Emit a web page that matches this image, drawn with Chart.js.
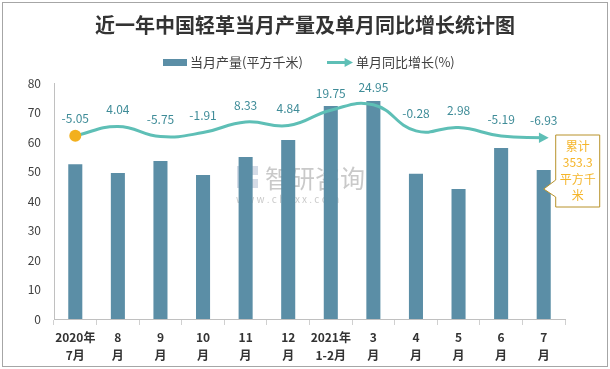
<!DOCTYPE html>
<html>
<head>
<meta charset="utf-8">
<script src="https://cdn.jsdelivr.net/npm/chart.js@4.4.0/dist/chart.umd.min.js"></script>
<style>
    html, body { margin: 0; padding: 0; background: #ffffff; }
    #wrap { width: 610px; height: 369px; }
</style>
</head>
<body>
<div id="wrap"><canvas id="chart" width="610" height="369"></canvas></div>
<script>
// Chart data
const categories = [
    ['2020年', '7月'], ['8', '月'], ['9', '月'], ['10', '月'], ['11', '月'], ['12', '月'],
    ['2021年', '1-2月'], ['3', '月'], ['4', '月'], ['5', '月'], ['6', '月'], ['7', '月']
];
const monthlyOutput = [52.5, 49.5, 53.6, 48.8, 54.9, 60.7, 72.2, 73.9, 49.2, 44.1, 58.0, 50.5];
const yoyGrowth = [-5.05, 4.04, -5.75, -1.91, 8.33, 4.84, 19.75, 24.95, -0.28, 2.98, -5.19, -6.93];
const yTicks = [0, 10, 20, 30, 40, 50, 60, 70, 80];
const cumulativeText = ['累计', '353.3', '平方千', '米'];

const titleText = '近一年中国轻革当月产量及单月同比增长统计图';
const barLabel = '当月产量(平方千米)';
const lineLabel = '单月同比增长(%)';

const barColor = '#5b8ea6';
const lineColor = '#5ebfb6';
const cjkFont = '"Noto Sans CJK SC", "Noto Sans", sans-serif';

// Draw an arrow head pointing right
function arrowHead(ctx, x, y, size, color) {
    ctx.fillStyle = color;
    ctx.beginPath();
    ctx.moveTo(x + size, y);
    ctx.lineTo(x - size * 0.4, y - size * 0.75);
    ctx.lineTo(x - size * 0.4, y + size * 0.75);
    ctx.closePath();
    ctx.fill();
}

// Title, legend, watermark and frame
const decorPlugin = {
    id: 'decor',
    beforeDraw(chart) {
        const ctx = chart.ctx;
        ctx.save();
        ctx.fillStyle = '#ffffff';
        ctx.fillRect(0, 0, chart.width, chart.height);

        // watermark
        ctx.fillStyle = 'rgba(160, 175, 200, 0.45)';
        ctx.fillRect(237, 166, 7, 22);
        ctx.fillRect(246, 166, 12, 9);
        ctx.fillRect(246, 179, 12, 9);
        ctx.fillStyle = 'rgba(120, 120, 120, 0.4)';
        ctx.font = '25px ' + cjkFont;
        ctx.textAlign = 'left';
        ctx.textBaseline = 'middle';
        ctx.fillText('智研咨询', 265, 178);
        ctx.font = '10px ' + cjkFont;
        ctx.fillText('w w w . c h y x x . c o m', 236, 199);
        ctx.restore();
    },
    afterDraw(chart) {
        const ctx = chart.ctx;
        ctx.save();
        // frame
        ctx.strokeStyle = '#a6a6a6';
        ctx.lineWidth = 1;
        ctx.strokeRect(2.5, 2.5, 605, 364);

        // title
        ctx.fillStyle = '#333333';
        ctx.font = 'bold 20px ' + cjkFont;
        ctx.textAlign = 'center';
        ctx.textBaseline = 'middle';
        ctx.fillText(titleText, 305, 25);

        // legend
        ctx.font = '13px ' + cjkFont;
        ctx.textAlign = 'left';
        ctx.fillStyle = barColor;
        ctx.fillRect(163, 59, 24, 7);
        ctx.fillStyle = '#404040';
        ctx.fillText(barLabel, 190, 62);
        ctx.strokeStyle = lineColor;
        ctx.lineWidth = 3;
        ctx.beginPath();
        ctx.moveTo(327, 62.5);
        ctx.lineTo(347, 62.5);
        ctx.stroke();
        arrowHead(ctx, 347, 62.5, 6, lineColor);
        ctx.fillStyle = '#404040';
        ctx.fillText(lineLabel, 356, 62);
        ctx.restore();
    }
};

// Labels above the growth line, arrow at its end, cumulative callout
const labelPlugin = {
    id: 'labels',
    afterDatasetsDraw(chart) {
        const ctx = chart.ctx;
        const lineMeta = chart.getDatasetMeta(1);
        const barMeta = chart.getDatasetMeta(0);
        ctx.save();
        ctx.font = '12px ' + cjkFont;
        ctx.textAlign = 'center';
        ctx.textBaseline = 'middle';
        ctx.fillStyle = '#3f8c98';
        lineMeta.data.forEach((pt, i) => {
            ctx.fillText(yoyGrowth[i].toFixed(2), pt.x, pt.y - 17);
        });

        // arrow head at line end
        const last = lineMeta.data[lineMeta.data.length - 1];
        arrowHead(ctx, last.x - 2, last.y, 7, lineColor);

        // callout box
        const bar = barMeta.data[barMeta.data.length - 1];
        const bx = bar.x + 12, by = 135, bw = 44, bh = 72;
        const tipX = bar.x, tipY = 189;
        ctx.fillStyle = '#ffffff';
        ctx.strokeStyle = '#b8922a';
        ctx.lineWidth = 1;
        ctx.beginPath();
        ctx.moveTo(bx, by);
        ctx.lineTo(bx + bw, by);
        ctx.lineTo(bx + bw, by + bh);
        ctx.lineTo(bx, by + bh);
        ctx.lineTo(bx, 197);
        ctx.lineTo(tipX, tipY);
        ctx.lineTo(bx, 180);
        ctx.closePath();
        ctx.fill();
        ctx.stroke();
        ctx.fillStyle = '#f5b52a';
        ctx.font = '12px ' + cjkFont;
        cumulativeText.forEach((t, i) => {
            ctx.fillText(t, bx + bw / 2, by + 11 + i * 16.5);
        });
        ctx.restore();
    }
};

const ctx = document.getElementById('chart').getContext('2d');
new Chart(ctx, {
    data: {
        labels: categories,
        datasets: [{
            type: 'bar',
            label: barLabel,
            data: monthlyOutput,
            backgroundColor: barColor,
            categoryPercentage: 0.33,
            barPercentage: 1.0,
            yAxisID: 'y',
            order: 1
        }, {
            type: 'line',
            label: lineLabel,
            data: yoyGrowth,
            borderColor: lineColor,
            borderWidth: 3,
            tension: 0.45,
            pointRadius: yoyGrowth.map((v, i) => i === 0 ? 6 : 0),
            pointBackgroundColor: '#f2b01e',
            pointBorderWidth: 0,
            yAxisID: 'y2',
            order: 0
        }]
    },
    options: {
        responsive: false,
        animation: false,
        layout: {
            padding: { left: 0, right: 45, top: 83, bottom: 0 }
        },
        plugins: {
            legend: { display: false },
            tooltip: { enabled: false }
        },
        scales: {
            x: {
                offset: true,
                grid: {
                    display: true,
                    drawOnChartArea: false,
                    tickLength: 6,
                    color: '#d0d0d0'
                },
                border: { color: '#c0c0c0' },
                ticks: {
                    color: '#333333',
                    padding: 3,
                    maxRotation: 0,
                    autoSkip: false,
                    font: { family: cjkFont, size: 12, weight: 'bold', lineHeight: 1.5 }
                },
                afterFit: scale => { scale.height = 50; }
            },
            y: {
                min: 0,
                max: 80,
                afterBuildTicks: scale => {
                    scale.ticks = yTicks.map(v => ({ value: v }));
                },
                grid: { display: false, drawTicks: false },
                border: { color: '#c0c0c0' },
                ticks: {
                    color: '#404040',
                    padding: 13,
                    font: { family: cjkFont, size: 12 }
                },
                afterFit: scale => { scale.width = 54; }
            },
            y2: {
                display: false,
                min: -182,
                max: 46
            }
        }
    },
    plugins: [decorPlugin, labelPlugin]
});
</script>
</body>
</html>
